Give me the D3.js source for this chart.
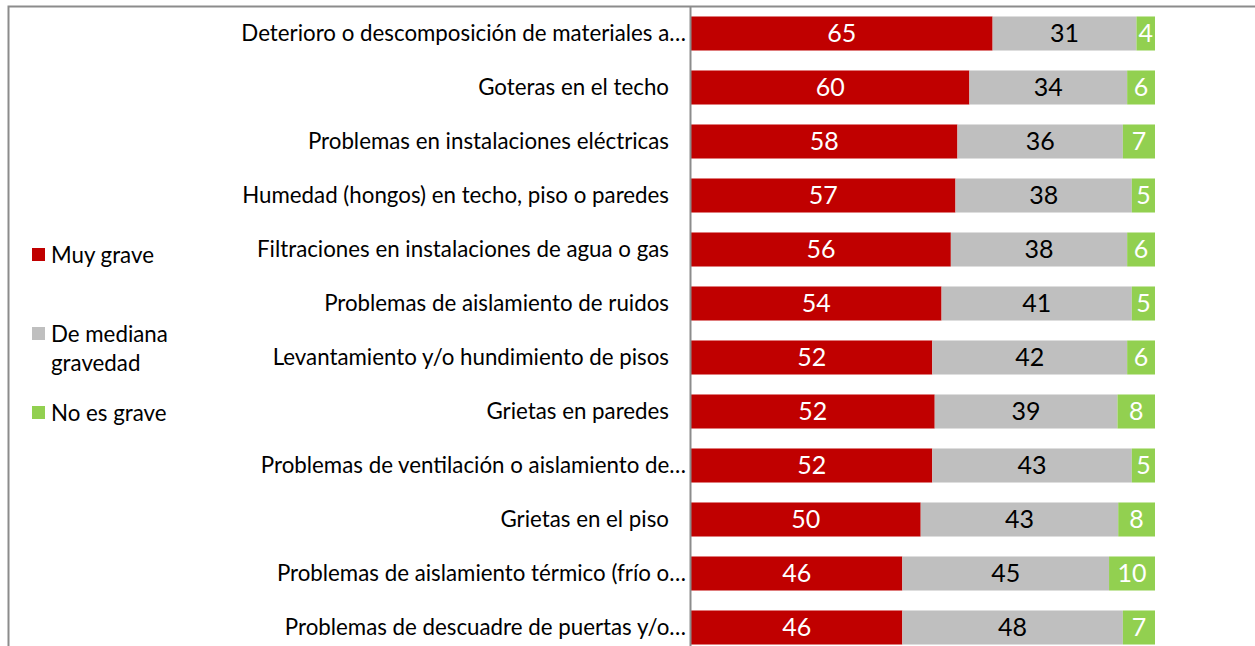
<!DOCTYPE html>
<html>
<head>
<meta charset="utf-8">
<script src="https://cdn.jsdelivr.net/npm/d3@7"></script>
<style>
  body { margin: 0; background: #fff; }
  svg { display: block; font-family: Lato, "Open Sans", sans-serif; }
</style>
</head>
<body>
<svg width="1255" height="646"></svg>
<script>
'use strict';
// data
var categories = [
  'Deterioro o descomposición de materiales a…',
  'Goteras en el techo',
  'Problemas en instalaciones eléctricas',
  'Humedad (hongos) en techo, piso o paredes',
  'Filtraciones en instalaciones de agua o gas',
  'Problemas de aislamiento de ruidos',
  'Levantamiento y/o hundimiento de pisos',
  'Grietas en paredes',
  'Problemas de ventilación o aislamiento de…',
  'Grietas en el piso',
  'Problemas de aislamiento térmico (frío o…',
  'Problemas de descuadre de puertas y/o…'
];
var muyGrave = [65, 60, 58, 57, 56, 54, 52, 52, 52, 50, 46, 46];
var mediana = [31, 34, 36, 38, 38, 41, 42, 39, 43, 43, 45, 48];
var noGrave = [4, 6, 7, 5, 6, 5, 6, 8, 5, 8, 10, 7];
var seriesNames = ['Muy grave', 'De mediana gravedad', 'No es grave'];
var COLORS = ['#c00000', '#bfbfbf', '#92d050'];
var labelColors = ['#fff', '#000', '#fff'];

var svg = d3.select('svg');
var W = 1255;

var rows = categories.map((c, i) => {
  var vals = [muyGrave[i], mediana[i], noGrave[i]];
  var tot = d3.sum(vals);
  var acc = 0;
  return {
    cat: c,
    segs: vals.map((v, k) => {
      var s = { k: k, v: v, x0: acc / tot, x1: (acc + v) / tot };
      acc += v;
      return s;
    })
  };
});

var x = d3.scaleLinear().domain([0, 1]).range([691, 1155]);
var y = d3.scaleBand().domain(categories).range([6.5, 654.5])
  .paddingInner(0.37).paddingOuter(0.185);

// frame
svg.append('path')
  .attr('d', `M8.5,${646} V6.5 H${W}`)
  .attr('fill', 'none')
  .attr('stroke', '#8c8c8c')
  .attr('stroke-width', 2);

var g = svg.append('g').attr('id', 'bars');
var row = g.selectAll('g.row').data(rows).enter().append('g')
  .attr('class', 'row')
  .attr('transform', d => `translate(0, ${y(d.cat)})`);

row.selectAll('rect').data(d => d.segs).enter().append('rect')
  .attr('x', d => x(d.x0))
  .attr('width', d => x(d.x1) - x(d.x0))
  .attr('height', y.bandwidth())
  .attr('fill', d => COLORS[d.k]);

row.selectAll('text.val').data(d => d.segs).enter().append('text')
  .attr('class', 'val')
  .attr('x', d => (x(d.x0) + x(d.x1)) / 2)
  .attr('y', y.bandwidth() / 2)
  .attr('dy', '0.36em')
  .attr('text-anchor', 'middle')
  .attr('font-size', 25)
  .attr('fill', d => labelColors[d.k])
  .text(d => d.v);

// category axis
svg.append('line')
  .attr('x1', 690.5).attr('x2', 690.5)
  .attr('y1', 7).attr('y2', 646)
  .attr('stroke', '#8c8c8c').attr('stroke-width', 2);

svg.append('g').selectAll('text').data(categories).enter().append('text')
  .attr('x', d => d.endsWith('…') ? 686 : 669)
  .attr('y', d => y(d) + y.bandwidth() / 2)
  .attr('dy', '0.35em')
  .attr('text-anchor', 'end')
  .attr('font-size', 22.3)
  .attr('fill', '#000')
  .text(d => d);

// legend
var legY = [255, 334, 413];
var leg = svg.append('g').selectAll('g').data(seriesNames).enter().append('g')
  .attr('transform', (d, i) => `translate(32, ${legY[i]})`);
leg.append('rect')
  .attr('y', -7).attr('width', 13).attr('height', 13)
  .attr('fill', (d, i) => COLORS[i]);
leg.append('text')
  .attr('x', 19)
  .attr('y', 0)
  .attr('font-size', 22.3)
  .attr('fill', '#000')
  .each(function(d) {
    var parts = d === 'De mediana gravedad' ? ['De mediana', 'gravedad'] : [d];
    d3.select(this).selectAll('tspan').data(parts).enter().append('tspan')
      .attr('x', 19)
      .attr('dy', (p, j) => j ? 29 : '0.35em')
      .text(p => p);
  });
</script>
</body>
</html>
